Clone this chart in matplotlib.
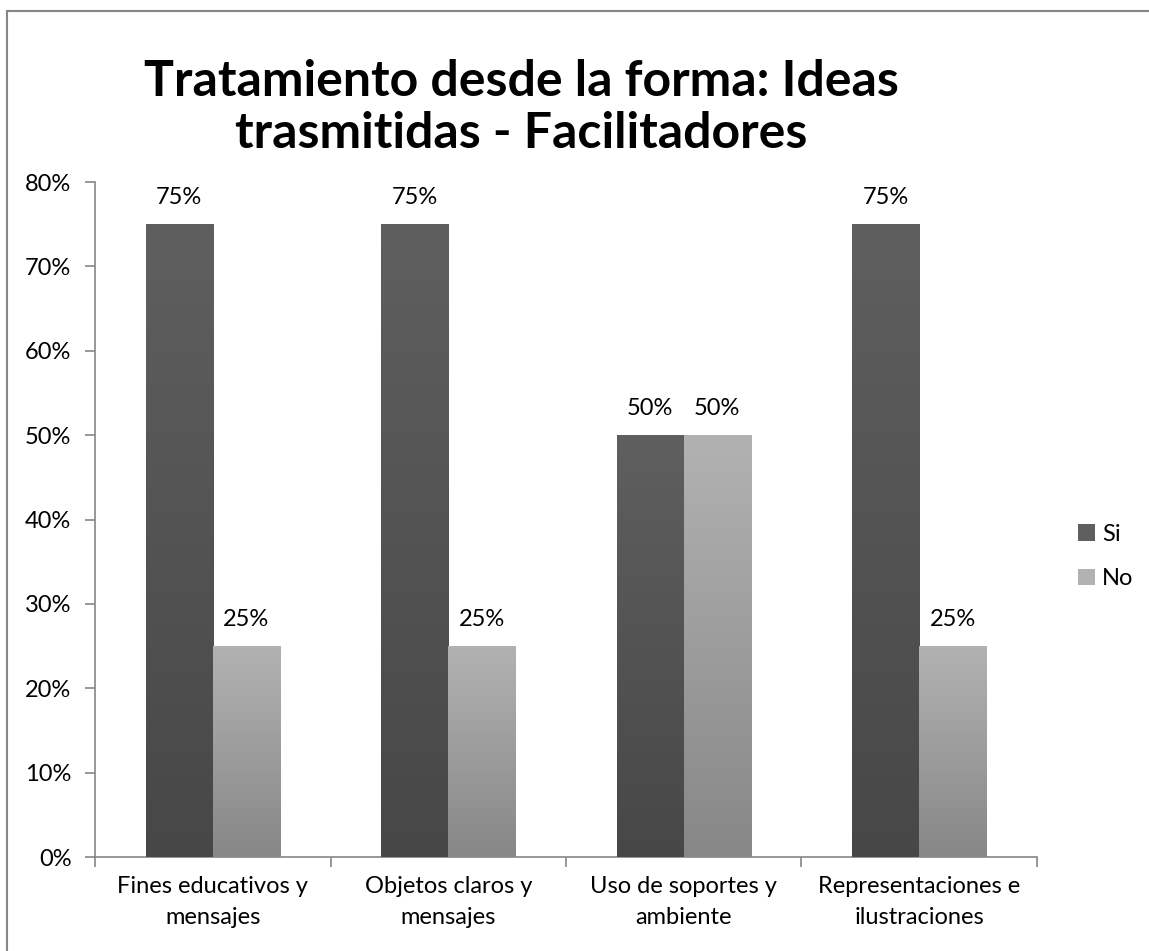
import numpy as np
import matplotlib
matplotlib.use("Agg")
import matplotlib.pyplot as plt
from matplotlib.colors import LinearSegmentedColormap
from matplotlib.patches import Rectangle, Patch

plt.rcParams['font.family'] = ['Lato', 'DejaVu Sans']

# datos del grafico
categorias = ['Fines educativos y\nmensajes', 'Objetos claros y\nmensajes',
              'Uso de soportes y\nambiente', 'Representaciones e\nilustraciones']
si = [75, 75, 50, 75]
no = [25, 25, 50, 25]
series = ['Si', 'No']
ticks_y = [0, 10, 20, 30, 40, 50, 60, 70, 80]

# degradados (arriba -> abajo)
grad_si = ('#5f5f5f', '#474747')
grad_no = ('#b2b2b2', '#878787')

fs = 17

fig = plt.figure(figsize=(11.49, 9.51), dpi=100)
ax = fig.add_axes([0.0827, 0.0988, 0.8198, 0.7098])

x = np.arange(len(categorias))
w = 0.285
bars_si = ax.bar(x - w / 2, si, width=w, color=grad_si[0], zorder=2)
bars_no = ax.bar(x + w / 2, no, width=w, color=grad_no[0], zorder=2)


def pintar_degradado(barras, colores):
    cmap = LinearSegmentedColormap.from_list('g', [colores[1], colores[0]])
    grad = np.linspace(0, 1, 256).reshape(-1, 1)
    for b in barras:
        x0, y0 = b.get_x(), b.get_y()
        ax.imshow(grad, cmap=cmap, origin='lower', aspect='auto', zorder=3,
                  extent=[x0, x0 + b.get_width(), y0, y0 + b.get_height()])


pintar_degradado(bars_si, grad_si)
pintar_degradado(bars_no, grad_no)

# etiquetas de valor
for barras, vals in ((bars_si, si), (bars_no, no)):
    for b, v in zip(barras, vals):
        ax.text(b.get_x() + b.get_width() / 2, v + 3.2, f'{v}%',
                ha='center', va='center', fontsize=fs, color='black')

ax.set_xlim(-0.5, len(categorias) - 0.5)
ax.set_ylim(0, 80)
ax.set_yticks(ticks_y)
ax.set_yticklabels([f'{t}%' for t in ticks_y], fontsize=fs)
ax.set_xticks(x)
ax.set_xticklabels(categorias, fontsize=fs, linespacing=1.55)
ax.tick_params(axis='x', length=0, pad=14)
ax.set_xticks(np.arange(len(categorias) + 1) - 0.5, minor=True)
ax.tick_params(axis='x', which='minor', length=7, color='#868686', width=1.2)
ax.tick_params(axis='y', length=7, color='#868686', width=1.2, pad=10)

for s in ['top', 'right']:
    ax.spines[s].set_visible(False)
for s in ['left', 'bottom']:
    ax.spines[s].set_color('#868686')
    ax.spines[s].set_linewidth(1.2)

# leyenda
handles = [Patch(facecolor=grad_si[0]), Patch(facecolor=grad_no[0])]
fig.legend(handles, series, loc='center left', bbox_to_anchor=(0.92, 0.415),
           frameon=False, fontsize=fs, handlelength=0.7, handleheight=0.7,
           handletextpad=0.3, labelspacing=1.0)

# titulo
fig.text(0.454, 0.887, 'Tratamiento desde la forma: Ideas\ntrasmitidas - Facilitadores',
         ha='center', va='center', fontsize=36, fontweight='bold', linespacing=1.17)

# marco del grafico
fig.patches.append(Rectangle((7 / 1149, -0.05), 1.1, 1 - 11 / 951 + 0.05,
                             transform=fig.transFigure, fill=False,
                             edgecolor='#868686', linewidth=1.5))

fig.savefig('out.png', dpi=100)
